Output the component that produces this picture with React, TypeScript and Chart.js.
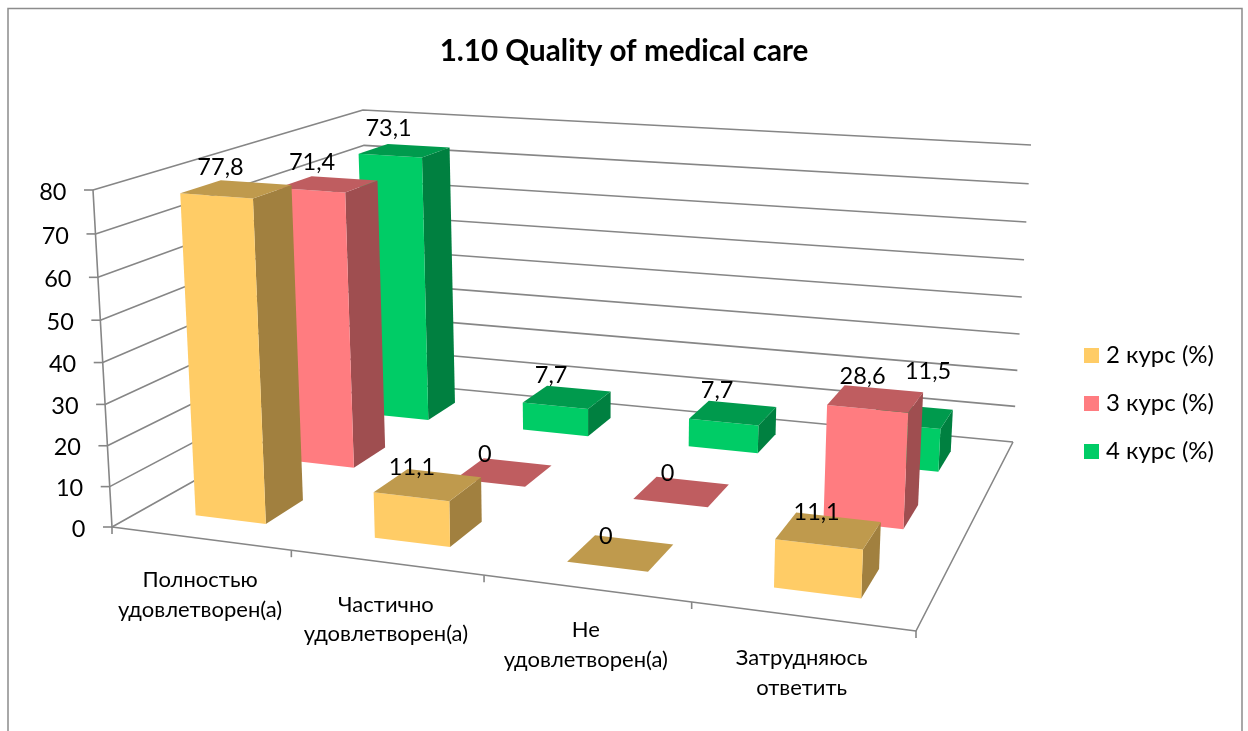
import React, { useEffect, useRef } from "react";
import { Chart, registerables } from "chart.js";

Chart.register(...registerables);

const TITLE = "1.10 Quality of medical care";
const categories = [
  ["Полностью", "удовлетворен(а)"],
  ["Частично", "удовлетворен(а)"],
  ["Не", "удовлетворен(а)"],
  ["Затрудняюсь", "ответить"],
];
const course2 = [77.8, 11.1, 0, 11.1];
const course3 = [71.4, 0, 0, 28.6];
const course4 = [73.1, 7.7, 7.7, 11.5];
const seriesNames = ["2 курс (%)", "3 курс (%)", "4 курс (%)"];
const frontColors = ["#FFCC66", "#FF7C80", "#00CC66"];
const topColors = ["#BF9A4D", "#BF5D60", "#009A4D"];
const sideColors = ["#A1803F", "#9F4E50", "#008040"];

const FONT = "Lato, 'Noto Sans', sans-serif";
const AXIS = "#868686";

type Pt = [number, number];
// Layout of the 3D box on the canvas: [front-left, front-right, back-right, back-left]
const FLOOR: Pt[] = [[112, 527], [916, 631], [1013, 442], [372, 381]];
const CEILING: Pt[] = [[93, 190], [932, 250], [1031, 145], [363, 110]];
const HEIGHT_RATIO = 0.953;

function squareToQuad(q: Pt[]) {
  const [[x0, y0], [x1, y1], [x2, y2], [x3, y3]] = q;
  const dx1 = x1 - x2, dx2 = x3 - x2, sx = x0 - x1 + x2 - x3;
  const dy1 = y1 - y2, dy2 = y3 - y2, sy = y0 - y1 + y2 - y3;
  const den = dx1 * dy2 - dx2 * dy1;
  const g = (sx * dy2 - dx2 * sy) / den;
  const h = (dx1 * sy - sx * dy1) / den;
  const a = x1 - x0 + g * x1, b = x3 - x0 + h * x3;
  const d = y1 - y0 + g * y1, e = y3 - y0 + h * y3;
  return (u: number, t: number): Pt => {
    const w = g * u + h * t + 1;
    return [(a * u + b * t + x0) / w, (d * u + e * t + y0) / w];
  };
}
const floorAt = squareToQuad(FLOOR);
const ceilingAt = squareToQuad(CEILING);

// u: along categories 0..1, d: depth 0..1, v: height 0..1
function project(u: number, d: number, v: number): Pt {
  const s = (v * HEIGHT_RATIO) / (1 - v + v * HEIGHT_RATIO);
  const a = floorAt(u, d);
  const b = ceilingAt(u, d);
  return [a[0] + (b[0] - a[0]) * s, a[1] + (b[1] - a[1]) * s];
}

function poly(ctx: CanvasRenderingContext2D, pts: Pt[], color: string) {
  ctx.beginPath();
  pts.forEach(([x, y], i) => (i ? ctx.lineTo(x, y) : ctx.moveTo(x, y)));
  ctx.closePath();
  ctx.fillStyle = color;
  ctx.fill();
}
function line(ctx: CanvasRenderingContext2D, pts: Pt[]) {
  ctx.beginPath();
  pts.forEach(([x, y], i) => (i ? ctx.lineTo(x, y) : ctx.moveTo(x, y)));
  ctx.stroke();
}

const BAR_FRACTION = 0.4;
const LABEL_OFFSET: Pt = [-16, -22];
// series:category -> extra label shift, as the labels were placed by hand in the original
const LABEL_NUDGE: Record<string, Pt> = {
  "0:1": [0, 5],
  "0:2": [1, 5],
  "0:3": [4, 4],
  "1:1": [-3, 4],
  "1:2": [2, 4],
  "1:3": [3, 0],
  "2:3": [34, -22],
};
const LEGEND_X = 1084;
const LEGEND_Y = 348;
const LEGEND_FONT = 24;

const perspective3d = {
  id: "perspective3d",
  afterLayout(chart: any) {
    const l = chart.legend;
    const w = l.right - l.left;
    const pad = l.options.labels.padding;
    l.left = LEGEND_X - pad;
    l.right = l.left + w;
    l.top = LEGEND_Y - pad - (LEGEND_FONT - 15) / 2;
    l.bottom = l.top + 300;
  },
  beforeDraw(chart: any) {
    const ctx: CanvasRenderingContext2D = chart.ctx;
    ctx.save();
    ctx.strokeStyle = "#8c8c8c";
    ctx.lineWidth = 1.5;
    line(ctx, [[8, 731], [8, 8.5], [1242, 8.5], [1242, 731]]);
    ctx.restore();
  },
  afterDraw(chart: any) {
    const ctx: CanvasRenderingContext2D = chart.ctx;
    const l = chart.legend;
    const step = LEGEND_FONT + l.options.labels.padding;
    ctx.save();
    ctx.fillStyle = "#000";
    ctx.font = `${LEGEND_FONT}px ${FONT}`;
    ctx.textAlign = "left";
    ctx.textBaseline = "middle";
    l.legendItems.forEach((it: any, i: number) => {
      ctx.fillText(it.text, LEGEND_X + 22, LEGEND_Y + 7.5 + i * step);
    });
    ctx.restore();
  },
  beforeDatasetsDraw(chart: any) {
    const ctx: CanvasRenderingContext2D = chart.ctx;
    const xs = chart.scales.x;
    const ys = chart.scales.y;
    const fy = (val: number) => (ys.bottom - ys.getPixelForValue(val)) / ys.height;
    const fx = (i: number) => (xs.getPixelForValue(i) - xs.left) / xs.width;
    const n = categories.length;
    const rows = chart.data.datasets.length;

    ctx.save();
    ctx.strokeStyle = AXIS;
    ctx.lineWidth = 1.6;
    ctx.lineJoin = "round";
    // Walls and value axis
    ys.ticks.forEach((t: any) => {
      const v = fy(t.value);
      const a = project(0, 0, v);
      line(ctx, [a, project(0, 1, v), project(1, 1, v)]);
      line(ctx, [[a[0] - 9, a[1]], a]);
      ctx.fillStyle = "#000";
      ctx.font = `23.5px ${FONT}`;
      ctx.textAlign = "right";
      ctx.textBaseline = "middle";
      ctx.fillText(String(t.value), a[0] - 26.5, a[1] + 2);
    });
    line(ctx, [project(0, 0, 1), project(0, 0, 0), project(1, 0, 0), project(1, 1, 0)]);
    // Category ticks and labels
    for (let i = 0; i <= n; i++) {
      const c = project(i / n, 0, 0);
      line(ctx, [c, [c[0], c[1] + 7]]);
    }
    (xs.getLabels() as string[][]).forEach((lab, i) => {
      const c = project(fx(i), 0, 0);
      ctx.fillStyle = "#000";
      ctx.font = `22px ${FONT}`;
      ctx.textAlign = "center";
      ctx.textBaseline = "middle";
      lab.forEach((s, k) => ctx.fillText(s, c[0], c[1] + 42 + k * 29.5));
    });

    // Bars, painted from the back row to the front row
    const labels: { text: string; at: Pt }[] = [];
    const halfU = (BAR_FRACTION / n) / 2;
    const halfD = (BAR_FRACTION / rows) / 2;
    for (let s = rows - 1; s >= 0; s--) {
      const ds = chart.data.datasets[s];
      const dc = (s + 0.5) / rows;
      ds.data.forEach((val: number, i: number) => {
        const uc = fx(i);
        const u0 = uc - halfU, u1 = uc + halfU;
        const d0 = dc - halfD, d1 = dc + halfD;
        const v = fy(val);
        if (val > 0) {
          poly(ctx, [project(u1, d0, 0), project(u1, d1, 0), project(u1, d1, v), project(u1, d0, v)], sideColors[s]);
          poly(ctx, [project(u0, d0, 0), project(u1, d0, 0), project(u1, d0, v), project(u0, d0, v)], frontColors[s]);
        }
        poly(ctx, [project(u0, d0, v), project(u1, d0, v), project(u1, d1, v), project(u0, d1, v)], topColors[s]);
        const c = project(uc, dc, v);
        const nudge = LABEL_NUDGE[`${s}:${i}`] || [0, 0];
        labels.push({
          text: String(val).replace(".", ","),
          at: [c[0] + LABEL_OFFSET[0] + nudge[0], c[1] + LABEL_OFFSET[1] + nudge[1]],
        });
      });
    }
    ctx.fillStyle = "#000";
    ctx.font = `23.5px ${FONT}`;
    ctx.textAlign = "center";
    ctx.textBaseline = "middle";
    labels.forEach((l) => ctx.fillText(l.text, l.at[0], l.at[1]));
    ctx.restore();
    return false;
  },
};

export default function App() {
  const ref = useRef<HTMLCanvasElement>(null);
  useEffect(() => {
    document.body.style.margin = "0";
    document.body.style.background = "#fff";
    const chart = new Chart(ref.current as HTMLCanvasElement, {
      type: "bar",
      data: {
        labels: categories,
        datasets: [course2, course3, course4].map((data, i) => ({
          label: seriesNames[i],
          data,
          backgroundColor: frontColors[i],
          borderWidth: 0,
        })),
      },
      options: {
        responsive: false,
        animation: false,
        layout: { padding: { top: 34 } },
        scales: {
          x: { display: false },
          y: { display: false, min: 0, max: 80, ticks: { stepSize: 10 } },
        },
        plugins: {
          title: {
            display: true,
            text: TITLE,
            color: "#000",
            font: { family: FONT, size: 29.6, weight: "bold" },
            padding: 0,
          },
          legend: {
            position: "right",
            align: "start",
            labels: {
              boxWidth: 15,
              boxHeight: 15,
              padding: 24,
              color: "rgba(0,0,0,0)",
              font: { family: FONT, size: LEGEND_FONT },
            },
          },
          tooltip: { enabled: false },
        },
      } as any,
      plugins: [perspective3d],
    });
    return () => chart.destroy();
  }, []);
  return <canvas ref={ref} width={1248} height={731} style={{ display: "block" }} />;
}
